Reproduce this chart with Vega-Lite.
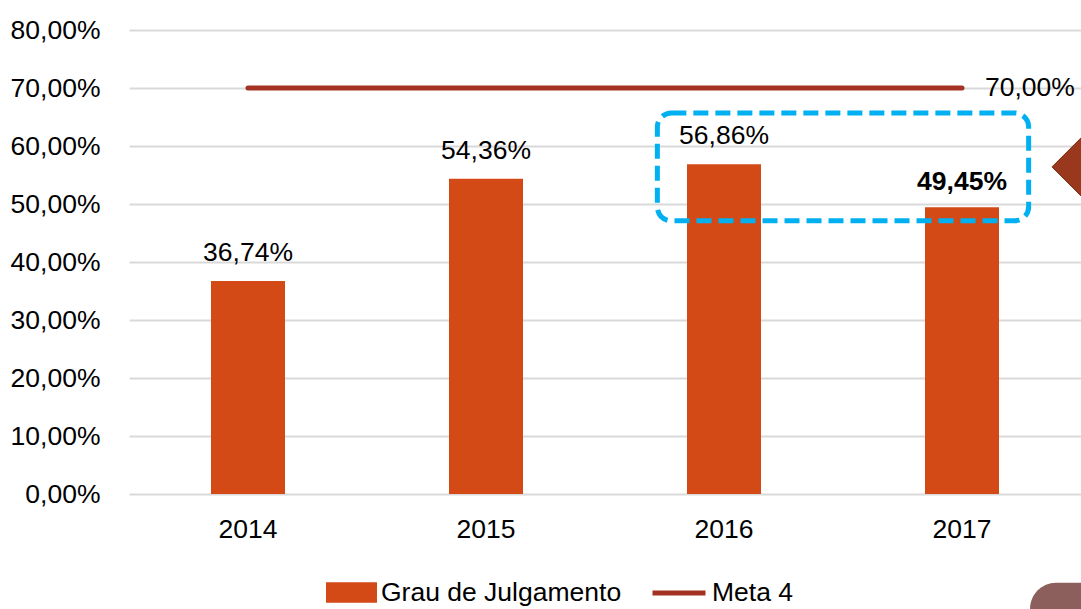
{
  "$schema": "https://vega.github.io/schema/vega-lite/v6.json",
  "width": 952,
  "height": 464,
  "autosize": {"type": "none"},
  "padding": {"left": 129, "top": 30, "right": 0, "bottom": 115},
  "background": "white",
  "config": {
    "locale": {"number": {"decimal": ",", "thousands": ".", "grouping": [3], "currency": ["R$ ", ""]}},
    "font": "Liberation Sans",
    "view": {"stroke": null},
    "axis": {"labelFont": "Liberation Sans", "labelFontSize": 26.5, "labelColor": "#000000"},
    "legend": {"labelFont": "Liberation Sans", "labelFontSize": 26.5, "labelColor": "#000000", "labelLimit": 0}
  },
  "datasets": {
    "grau": [
      {"ano": "2014", "valor": 0.3674, "serie": "Grau de Julgamento"},
      {"ano": "2015", "valor": 0.5436, "serie": "Grau de Julgamento"},
      {"ano": "2016", "valor": 0.5686, "serie": "Grau de Julgamento"},
      {"ano": "2017", "valor": 0.4945, "serie": "Grau de Julgamento"}
    ],
    "meta": [
      {"ano": "2014", "valor": 0.70, "serie": "Meta 4"},
      {"ano": "2015", "valor": 0.70, "serie": "Meta 4"},
      {"ano": "2016", "valor": 0.70, "serie": "Meta 4"},
      {"ano": "2017", "valor": 0.70, "serie": "Meta 4"}
    ],
    "destaque": [
      {"de": "2016", "ate": "2017", "topo": 0.657, "base": 0.471}
    ],
    "seta": [
      {"ano": "2017", "valor": 0.564}
    ],
    "canto": [
      {"ano": "2017", "topo": -0.153, "base": -0.25}
    ]
  },
  "layer": [
    {
      "data": {"name": "grau"},
      "mark": {"type": "bar", "size": 74},
      "encoding": {
        "x": {
          "field": "ano", "type": "nominal",
          "scale": {"paddingInner": 0, "paddingOuter": 0},
          "axis": {"title": null, "labelAngle": 0, "labelPadding": 22, "domain": false, "ticks": false, "grid": false}
        },
        "y": {
          "field": "valor", "type": "quantitative",
          "scale": {"domain": [0, 0.8], "nice": false},
          "axis": {"title": null, "format": ".2%", "values": [0, 0.1, 0.2, 0.3, 0.4, 0.5, 0.6, 0.7, 0.8], "domain": false, "ticks": false, "labelPadding": 29, "grid": true, "gridColor": "#D9D9D9", "gridWidth": 2}
        },
        "fill": {
          "field": "serie", "type": "nominal",
          "scale": {"range": ["#D34A17"]},
          "legend": {"title": null, "orient": "none", "legendX": 197, "legendY": 537, "padding": 0, "symbolType": "M-1,-0.4H1V0.4H-1Z", "symbolSize": 2601, "symbolStrokeWidth": 0, "labelOffset": 4}
        }
      }
    },
    {
      "data": {"name": "grau"},
      "transform": [{"filter": "datum.ano != '2017'"}],
      "mark": {"type": "text", "baseline": "bottom", "dy": -14, "fontSize": 26.5, "color": "#000000"},
      "encoding": {
        "x": {"field": "ano", "type": "nominal"},
        "y": {"field": "valor", "type": "quantitative"},
        "text": {"field": "valor", "type": "quantitative", "format": ".2%"}
      }
    },
    {
      "data": {"name": "grau"},
      "transform": [{"filter": "datum.ano == '2017'"}],
      "mark": {"type": "text", "baseline": "bottom", "dy": -11, "fontSize": 26.5, "fontWeight": "bold", "color": "#000000"},
      "encoding": {
        "x": {"field": "ano", "type": "nominal"},
        "y": {"field": "valor", "type": "quantitative"},
        "text": {"field": "valor", "type": "quantitative", "format": ".2%"}
      }
    },
    {
      "data": {"name": "meta"},
      "mark": {"type": "line", "strokeWidth": 5, "strokeCap": "round"},
      "encoding": {
        "x": {"field": "ano", "type": "nominal"},
        "y": {"field": "valor", "type": "quantitative"},
        "stroke": {
          "field": "serie", "type": "nominal",
          "scale": {"range": ["#A33222"]},
          "legend": {"title": null, "orient": "none", "legendX": 521, "legendY": 534, "padding": 0, "symbolType": "stroke", "symbolSize": 2809, "symbolStrokeWidth": 5, "labelOffset": 4}
        }
      }
    },
    {
      "data": {"name": "meta"},
      "transform": [{"filter": "datum.ano == '2017'"}],
      "mark": {"type": "text", "align": "left", "baseline": "middle", "dx": 23, "fontSize": 26.5, "color": "#000000"},
      "encoding": {
        "x": {"field": "ano", "type": "nominal"},
        "y": {"field": "valor", "type": "quantitative"},
        "text": {"field": "valor", "type": "quantitative", "format": ".2%"}
      }
    },
    {
      "data": {"name": "destaque"},
      "mark": {"type": "rect", "fill": null, "fillOpacity": 0, "stroke": "#00B0F0", "strokeWidth": 5, "strokeDash": [15, 7], "cornerRadius": 14},
      "encoding": {
        "x": {"field": "de", "type": "nominal", "bandPosition": 0.22},
        "x2": {"field": "ate", "bandPosition": 0.78},
        "y": {"field": "topo", "type": "quantitative"},
        "y2": {"field": "base"}
      }
    },
    {
      "data": {"name": "seta"},
      "mark": {"type": "point", "shape": "diamond", "filled": true, "size": 3364, "color": "#99381C", "opacity": 1, "stroke": "#7A2A14", "strokeWidth": 1},
      "encoding": {
        "x": {"field": "ano", "type": "nominal", "bandPosition": 1},
        "y": {"field": "valor", "type": "quantitative"}
      }
    },
    {
      "data": {"name": "canto"},
      "mark": {"type": "rect", "fill": "#8C5F5D", "cornerRadiusTopLeft": 26, "clip": false},
      "encoding": {
        "x": {"field": "ano", "type": "nominal", "bandPosition": 0.786},
        "x2": {"field": "ano", "bandPosition": 1.1},
        "y": {"field": "topo", "type": "quantitative"},
        "y2": {"field": "base"}
      }
    }
  ]
}
